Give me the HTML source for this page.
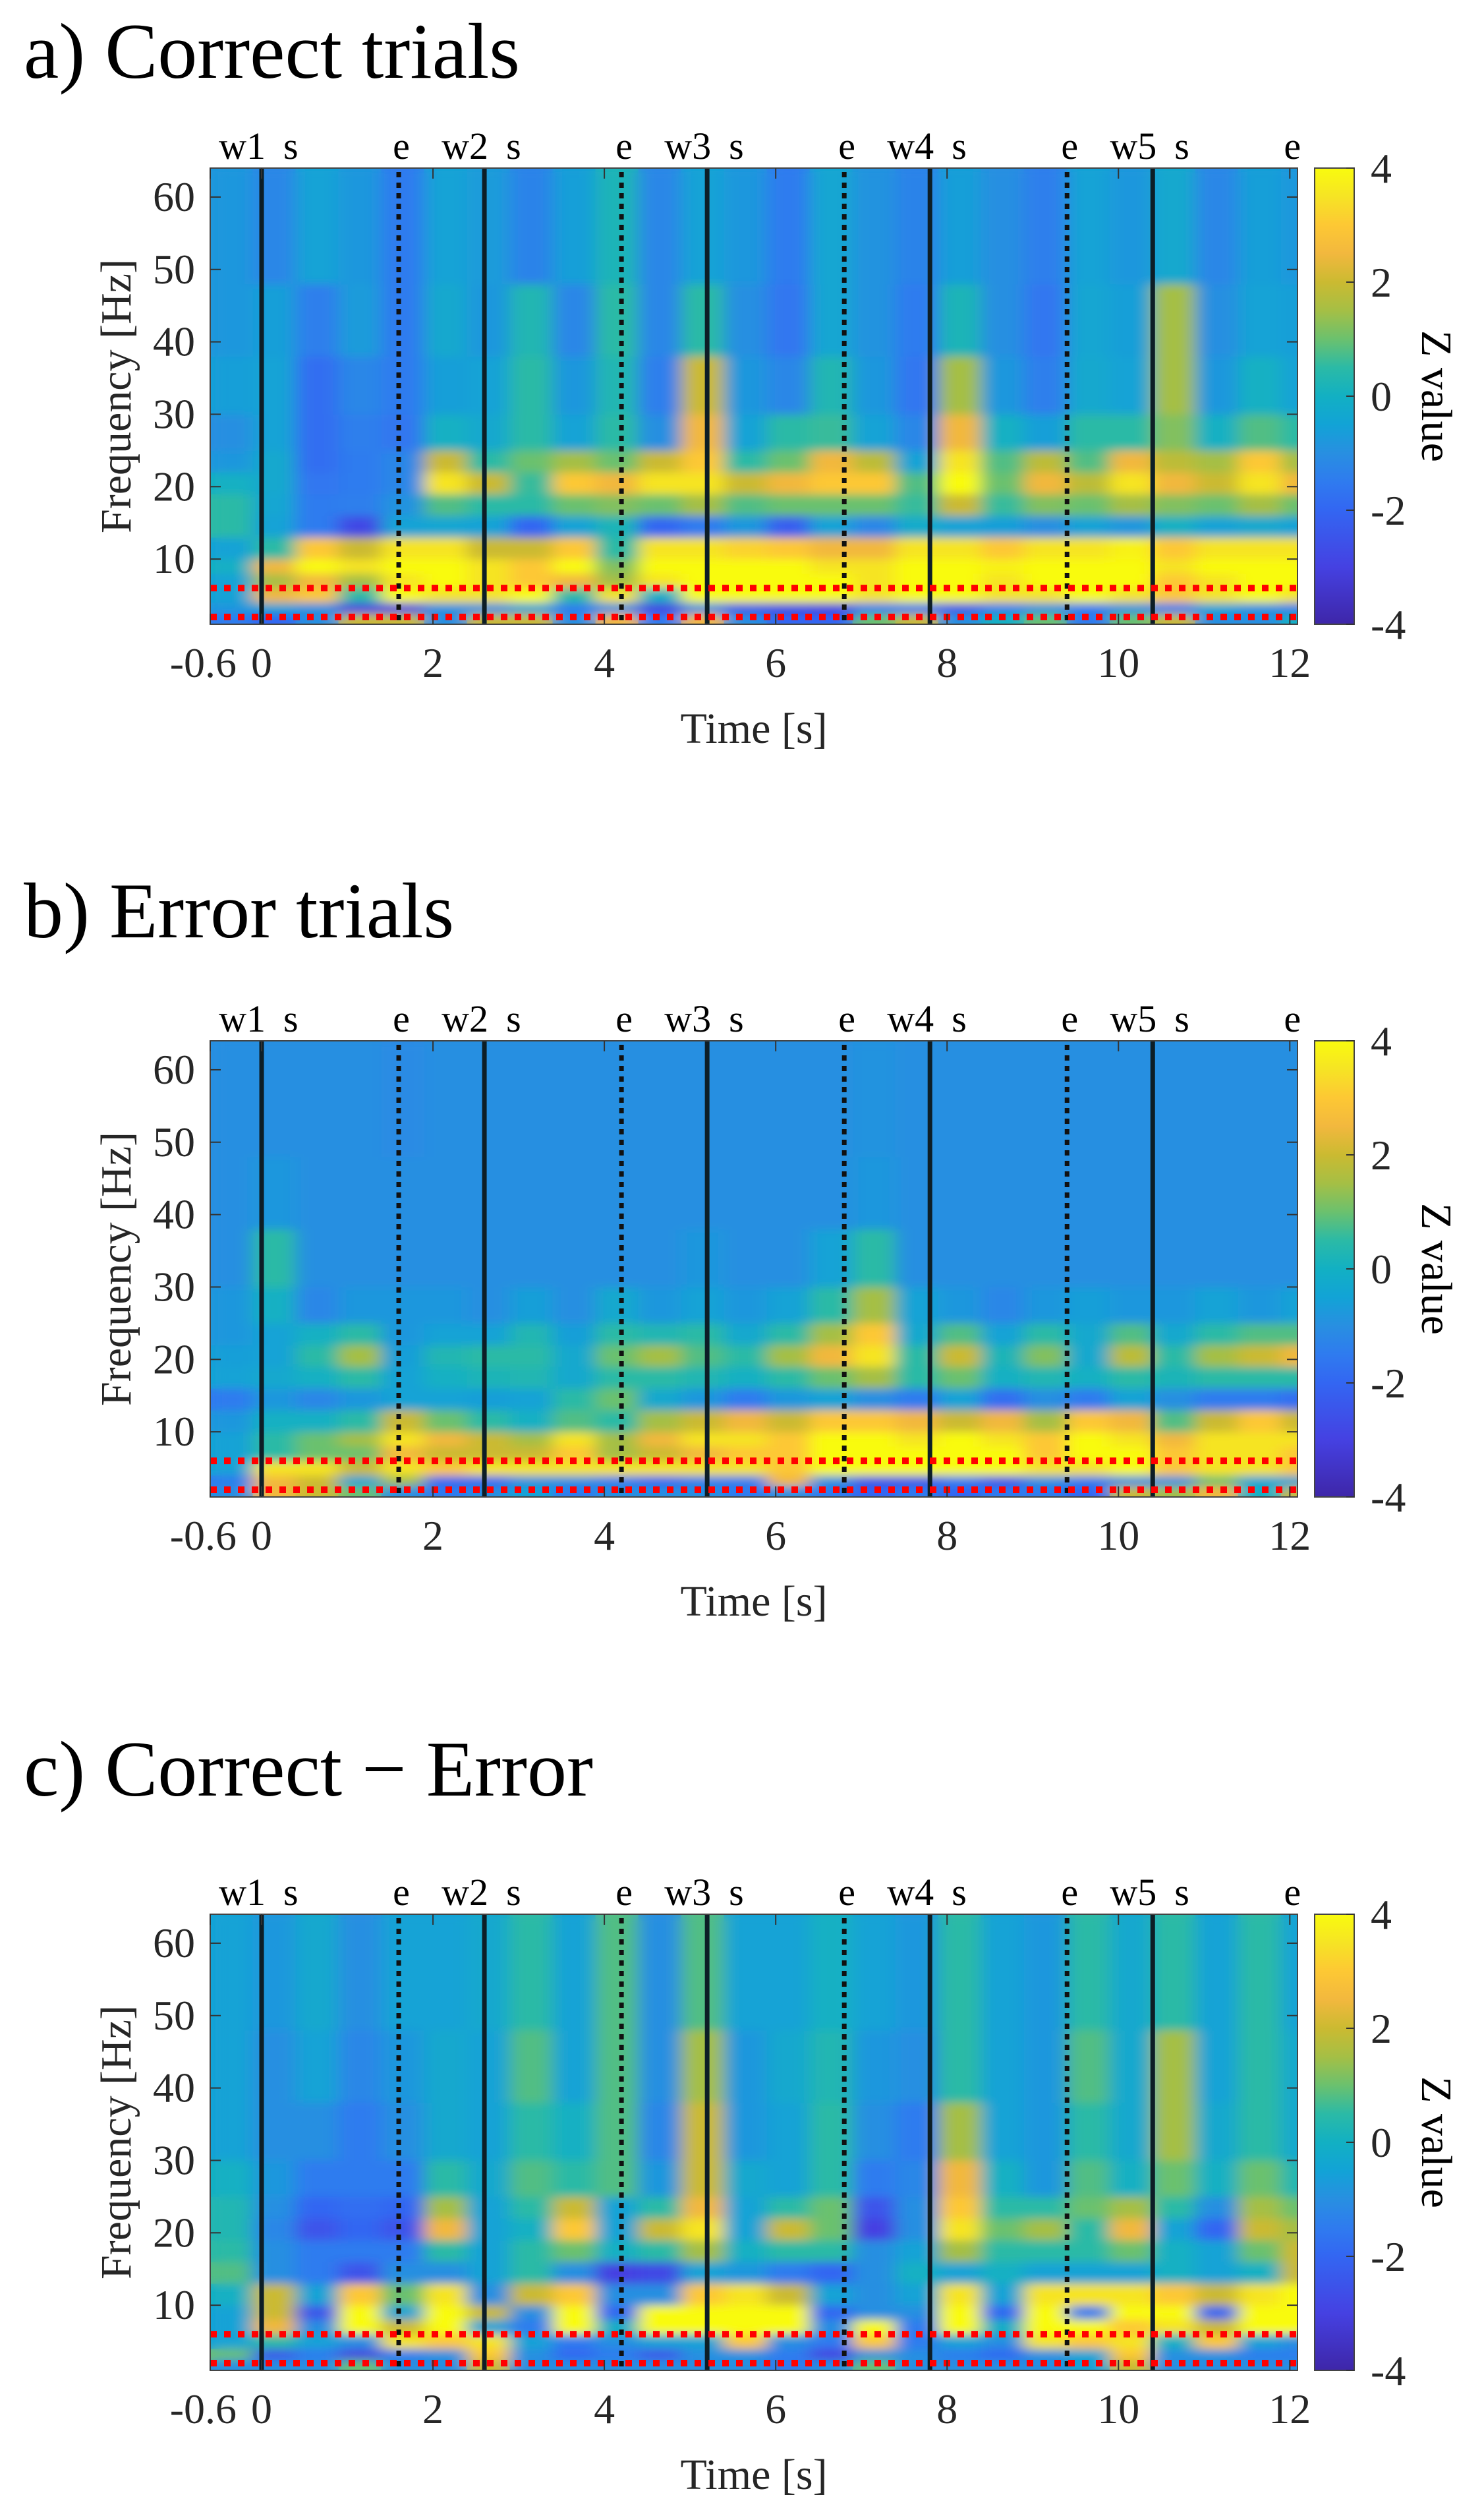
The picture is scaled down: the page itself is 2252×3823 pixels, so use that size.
<!DOCTYPE html>
<html><head><meta charset="utf-8"><style>
html,body{margin:0;padding:0;background:#fff;}
svg{display:block;font-family:"Liberation Serif",serif;}
</style></head><body>
<svg id="fig" width="2252" height="3823" viewBox="0 0 2252 3823" xmlns="http://www.w3.org/2000/svg">
<defs>
<filter id="soft" x="-5%" y="-5%" width="110%" height="110%"><feGaussianBlur stdDeviation="13 7"/></filter>
<linearGradient id="cbgrad" x1="0" y1="1" x2="0" y2="0"></linearGradient>
</defs>
</svg>
<script>
// ---- data ----
const timeBins = [-0.6,-0.1,0.4,0.9,1.4,1.9,2.4,2.9,3.4,3.9,4.4,4.9,5.4,5.9,6.4,6.9,7.4,7.9,8.4,8.9,9.4,9.9,10.4,10.9,11.4,11.9];
const freqEdges = [1,2.5,4,6,8,10,13,16,19,22,25,30,38,48,64];
const solidEvents = [0,2.6,5.2,7.8,10.4];
const dottedEvents = [1.6,4.2,6.8,9.4];
const bandLines = [2,6];
const yTicks = [10,20,30,40,50,60];
const xTicks = [-0.6,0,2,4,6,8,10,12];
const xTickLabels = ["-0.6","0","2","4","6","8","10","12"];
const cbTicks = [4,2,0,-2,-4];
const eventLabels = [["w1",0],["e",1.6],["w2",2.6],["e",4.2],["w3",5.2],["e",6.8],["w4",7.8],["e",9.4],["w5",10.4],["e",12]];
const titles = ["a) Correct trials","b) Error trials","c) Correct \u2212 Error"];

// rows listed bottom (1-2.5 Hz) to top (48-64 Hz)
const correctZ = [
[-1.5,-2,-1,2,2,-1,2,2,-1,2.5,-1.5,2.5,-1,-2,-2,1,2,-1,0,1,-1.5,1,2,-1,-1,0],
[-0.8,-0.5,-1,-3,-3,-1,-1,-0.5,-1.5,-1,-3,-1,-2.5,-2.8,-3,-1.5,-1.5,-2.5,-1.5,-1,-1.5,-1,-1.5,-0.5,-1,-1.5],
[-0.5,2.5,3,0.5,4,3.5,3.5,4,0.5,3.5,0,4,4,4,4,3.5,4,4,3.5,3.5,4,3.5,3,3.5,4,3.5],
[-0.5,1.5,2.5,1.5,3.5,4,3.5,3,2.5,1.5,3.5,4,4,4,4,3.5,4,4,3.5,4,4,4,3,3.5,4,4],
[0,2.5,4,3.5,4,4,3.5,3,4,1.2,4,4,4,4,3.5,3.5,4,4,3.8,4,4,4,3.5,4,4,4],
[-0.5,0.5,3,2,3.5,3.5,2,2,3,0.5,3.5,3.5,3.2,3,2.5,2.5,3.5,3.5,3,3.5,3.5,3.8,3,3.5,3.5,3.5],
[0.5,-0.5,-1.5,-2.8,-0.5,-0.4,-0.5,-2,-0.5,0.2,-2,-1.5,-0.8,-2.2,-0.5,-1.2,-0.2,-0.5,-0.6,-1,-0.5,-0.8,0,-0.5,-0.3,-0.5],
[0.5,-0.4,-1.5,-1.4,-0.9,0.8,0.5,0.5,1,1.2,1,1.5,0.8,1,1,1,0.6,2,0.6,1.2,1,1.5,1.2,1,1.5,1],
[0,-0.3,-1.6,-1.5,-1.2,3.5,2,0.6,3,2.5,3.5,3.5,2,2.5,3,3,0.8,4,1,2.5,1.8,3.5,2.5,2,3.5,2.5],
[-0.8,-0.3,-1.8,-1.5,-1.2,2,0.5,1,1.5,1,2,3,0.5,1,2.5,1.8,-0.5,3.5,0.8,1.8,0.8,2.5,1.8,1.5,3,1.5],
[-1,-0.5,-1.8,-1.4,-1.6,0,-0.3,0.5,-0.5,0.5,-1,2.5,-0.5,0.5,0.6,-0.5,-1.2,2.5,0,-0.6,0.5,0.5,1.2,0,0.8,0.5],
[-0.6,-0.5,-1.8,-1.2,-1.5,-0.6,-0.5,0.5,-0.8,0.3,-1.4,2,-0.8,-1.2,0.3,-0.8,-1.6,1.5,-0.8,-1.4,-0.3,-0.5,1.5,-0.8,0,-0.5],
[-0.8,-0.6,-1.4,-0.7,-1.5,-0.3,-0.8,0.3,-1.2,0.5,-1.2,0.5,-1,-1.6,-0.4,-0.9,-1.5,0.2,-1,-1.6,-0.4,-0.6,1.5,-1,-0.5,-0.6],
[-0.8,-1.2,-0.5,-0.8,-1.5,-0.5,-0.7,-1.3,-0.6,0.2,-1.2,-0.5,-0.8,-1.5,-0.4,-0.9,-1.3,-0.6,-1,-1.4,-0.5,-0.8,-0.3,-1.2,-0.6,-0.8]
];
const errorZ = [
[-1,2.5,2,1,-1,-1.5,-1,-0.5,-1.5,-1,-1,-1,-1.5,-1,-1.5,-2,-1.5,-2,-1.5,-1.5,-2,2,1.5,2.5,0,2],
[-1.5,2.5,2,-0.5,1.5,-2,-2,-1,-1,-1.5,-2,-1.5,-1.5,2.5,-1,-2.5,-2.5,-1.5,-2.5,-1,-1.5,-1,-1,1,-0.5,-0.5],
[-0.5,3.5,3.5,2,3.5,3,3.5,3.5,3.5,3.5,3.5,3.5,3.5,3,4,4,4,4,4,3.5,3.5,4,3,3.5,3.5,3],
[-0.5,0.5,1,1,2.5,2,2,2,3,1.5,2,2.5,3,3,4,4,4,4,4,3,4,4,3,3.5,3.5,3],
[-0.5,0.5,1,1.5,3.5,2.5,2,1.5,3.5,1.5,2.5,3.5,3.5,3,4,4,3.5,4,3.5,3,4,3.5,2.5,3.5,3.5,3.5],
[-0.8,0,0,0.5,2,1,0.5,0,0.8,0.5,1.5,2,2.5,2,3,3,2.5,2,2.5,1.5,3,2.5,0.8,2,3,2],
[-1.5,-0.8,-1.2,-0.8,-0.5,-0.5,-0.6,-0.5,0.5,1,-0.3,-0.8,-1.5,-0.8,-0.5,-1,-1.5,-0.5,-1.8,-1,-1.5,-0.5,-1,-1.5,-1.5,-1.8],
[-0.5,-0.3,0,0.5,-0.5,0,0.2,0.3,-0.3,0.5,0.5,0.3,0,0.5,1,1.5,0.5,1,0,0.3,0,0.5,0.2,0.5,0.5,0.5],
[-0.6,-0.5,0.5,1.5,-0.6,0.3,0.5,0.5,-0.3,1,1.5,0.8,0.5,1.5,2.5,3.5,0.5,2,0.2,1.2,-0.3,1.8,0.5,1.5,2,2.5],
[-0.8,-0.5,0,0.5,-0.8,-0.5,-0.5,0.3,-0.6,0.5,0.3,0.5,-0.3,0.5,1.5,3,-0.3,0.8,-0.5,0.5,-0.3,0.8,-0.3,0.5,0.8,0.8],
[-0.8,0,-1.2,-0.8,-0.8,-0.8,-1,-0.6,-1,-0.3,-0.8,-0.5,-0.8,-0.5,0.5,1.5,-0.5,-0.8,-1.2,-0.8,-0.6,-0.8,-0.8,-0.5,-0.8,-0.5],
[-1,0.5,-1,-1,-1,-1,-1,-1,-1,-1,-1,-0.8,-1,-1,-0.5,0.5,-1,-1,-1,-1,-1,-1,-1,-1,-1,-1],
[-1,-0.8,-1,-1,-1,-1,-1,-1,-1,-1,-1,-1,-1,-1,-1,-0.8,-1,-1,-1,-1,-1,-1,-1,-1,-1,-1],
[-1,-1,-1,-1,-1.1,-1,-1,-1,-1,-1,-1,-1,-1,-1,-1,-0.9,-1,-1,-1,-1,-1,-1,-1,-1,-1,-1]
];
const diffZ = [
[-1,-1,-1,1,-1,-1,2,-1,-1,-1,-1,-1,-1,-1.5,-1,1,-1,-1,-1,-1,-0.5,2,-1,-1,-1,-1],
[1,-2.5,-1.5,-3,-1.5,-1,3,-1,-2,-1.5,-2.5,-1,-1,-1.5,-3,-1,-1,-1.5,-2,-1,-0.5,3,-1,-1,-1.5,-1.5],
[-0.5,0.5,-0.5,-1,3.5,3,3.5,-0.5,-1.5,-1,-0.5,-0.5,3,-1,-1.5,3,-1.5,-0.5,-1,3.5,3,3.5,0,3,-0.5,-1],
[-0.5,2.5,-1,4,2,4,-0.5,-1.5,4,0,4,4,4,4,-1,4,-1.5,4,0,4,4,3,3.5,2,4,4],
[-0.5,2,-2.5,4,-0.5,4,2,-1,4,-2,4,4,4,4,-2,-1,-1,4,-2,4,-1.5,4,4,-2,4,4],
[0,2,-0.5,3,1,3.5,-1,2,3,-1,-1,3,3.5,2,-0.5,-1,-0.5,3.5,-0.5,3.5,3.5,3.5,3,2,3.5,4],
[0.8,-1,-1.5,-2.5,-1,-1,-0.5,0.5,-1,-3,-2.8,-0.5,-0.8,-1.5,-2,-1,0,-0.5,0,-0.5,-0.5,-0.5,0,-0.5,0,2],
[0.5,-1,-1.5,-1.5,-1.5,0.5,-0.5,0.5,1,0,0.5,1.5,0,0.5,0.5,-1,-0.5,1.5,0.5,0.5,0.5,1,0,-0.5,1,2],
[0.3,-1.2,-2.5,-2,-2.5,2.5,-0.5,0,3,-0.5,2,3.5,-0.5,2,1,-3,-1,3.5,1,1.5,0.5,2.5,-0.5,-2,2,1.5],
[0.3,-1,-2,-1.8,-2,1.5,-0.5,0.5,2,-0.5,0.5,2.5,-0.5,0.5,1,-2.5,-1,3,0.5,0.5,1,1.5,0.5,-1,1.5,1],
[0,-0.8,-1.5,-1.5,-1.5,0.5,-0.3,0.8,0.5,0.8,-0.8,2,-0.3,-0.5,0.5,-1.5,-1.2,2.5,0,-0.8,0.8,0,1,0,1,0.3],
[-0.5,-1,-1,-1.5,-1,-0.3,-0.5,0.5,0,0.8,-1.2,2,-0.8,-0.5,0.5,-1,-1.5,1.5,-0.5,-0.8,0.5,-0.3,1.5,-0.3,0.5,-0.3],
[-0.5,-1,-0.5,-1.2,-0.8,-0.3,-0.5,0.8,-0.5,0.8,-1,1.5,-0.8,-0.3,0.3,-0.8,-1,0.5,-0.5,-0.8,0.8,-0.3,1.5,-0.5,0.5,-0.3],
[-0.5,-0.8,-0.3,-1,-0.5,-0.5,-0.3,0.5,-0.5,0.8,-1,0.8,-0.5,-0.5,0,-0.5,-0.8,0.5,-0.5,-0.8,0.5,-0.3,0.5,-0.5,0.5,-0.5]
];
const panelData = [correctZ, errorZ, diffZ];

// ---- layout ----
const NS = "http://www.w3.org/2000/svg";
const svg = document.getElementById('fig');
const PL = 319, PR = 1969, PH = 692;
const panelTops = [255, 1579, 2904];
const titleY = [118, 1422, 2724];
const T0 = -0.6, T1 = 12.09, F0 = 1, F1 = 64;
function xScale(t){ return PL + (t - T0) / (T1 - T0) * (PR - PL); }
function yScale(f, top){ return top + PH - (f - F0) / (F1 - F0) * PH; }
const cmapZ = [-4,-3,-2,-1.5,-1,-0.5,0,0.5,1,1.5,2,2.5,3,3.5,4];
const cmapC = ["#3e26a8","#4541e2","#3366f2","#2f7bef","#288fe1","#12a3d6","#12b0c3","#2bbaa6","#6bc16e","#a5bf45","#cbba31","#f2b83e","#fdc834","#f6e424","#f9fb0e"];
function hex2rgb(h){return [1,3,5].map(i=>parseInt(h.substr(i,2),16));}
function color(z){
  z = Math.max(-4, Math.min(4, z));
  for (let i=0;i<cmapZ.length-1;i++){
    if (z<=cmapZ[i+1]){
      const a=hex2rgb(cmapC[i]), b=hex2rgb(cmapC[i+1]);
      const u=(z-cmapZ[i])/(cmapZ[i+1]-cmapZ[i]);
      return 'rgb('+a.map((v,k)=>Math.round(v+(b[k]-v)*u)).join(',')+')';
    }
  }
  return cmapC[cmapC.length-1];
}
function mk(tag, attrs, parent){
  const e = document.createElementNS(NS, tag);
  for (const k in attrs) e.setAttribute(k, attrs[k]);
  (parent||svg).appendChild(e);
  return e;
}
const grad = document.getElementById('cbgrad');
cmapZ.forEach((z,i)=>{ mk('stop',{offset:((z+4)/8).toFixed(4),'stop-color':cmapC[i]},grad); });

panelData.forEach((grid, p)=>{
  const top = panelTops[p];
  const g = mk('g', {});
  
  
  const title = mk('text', {x:36, y:titleY[p], 'font-size':120, fill:'#000'}, g);
  title.textContent = titles[p];
  
  

  const clipId = 'clip'+p;
  const cp = mk('clipPath', {id:clipId}, g);
  mk('rect', {x:PL, y:top, width:PR-PL, height:PH}, cp);
  const hm = mk('g', {'clip-path':'url(#'+clipId+')'}, g);
  
  
  const base = mk('g', {}, hm);
  const soft = mk('g', {filter:'url(#soft)'}, hm);
  [base, soft].forEach(layer=>{
    grid.forEach((row, r)=>{
      const y1 = yScale(freqEdges[r+1], top), y0 = yScale(freqEdges[r], top);
      row.forEach((z, c)=>{
        const tA = timeBins[c], tB = (c+1<timeBins.length) ? timeBins[c+1] : T1 + 0.3;
        const xa = xScale(tA), xb = xScale(tB);
        const cell = mk('rect', {x:xa-0.5, y:y1-0.5, width:xb-xa+1, height:y0-y1+1, fill:color(z)}, layer);
        
        
      });
    });
  });
  solidEvents.forEach(t=>{
    const l = mk('line', {x1:xScale(t), x2:xScale(t), y1:top, y2:top+PH, stroke:'#0d1e26', 'stroke-width':7}, g);
    
    
  });
  dottedEvents.forEach(t=>{
    const l = mk('line', {x1:xScale(t), x2:xScale(t), y1:top+6, y2:top+PH, stroke:'#111', 'stroke-width':7, 'stroke-dasharray':'8 8'}, g);
    
    
  });
  bandLines.forEach(f=>{
    const l = mk('line', {x1:PL, x2:PR, y1:yScale(f, top), y2:yScale(f, top), stroke:'#ff0000', 'stroke-width':10, 'stroke-dasharray':'10 11'}, g);
    
    
  });
  const fr = mk('rect', {x:PL, y:top, width:PR-PL, height:PH, fill:'none', stroke:'#444', 'stroke-width':2}, g);
  
  
  yTicks.forEach(f=>{
    const y = yScale(f, top);
    mk('line', {x1:PL, x2:PL+16, y1:y, y2:y, stroke:'#333', 'stroke-width':2}, g);
    mk('line', {x1:PR-16, x2:PR, y1:y, y2:y, stroke:'#333', 'stroke-width':2}, g);
    const tl = mk('text', {x:296, y:y+21, 'font-size':64, fill:'#262626', 'text-anchor':'end'}, g);
    tl.textContent = String(f);
    
    
  });
  xTicks.forEach((t,i)=>{
    const x = xScale(t);
    mk('line', {x1:x, x2:x, y1:top+PH, y2:top+PH-16, stroke:'#333', 'stroke-width':2}, g);
    mk('line', {x1:x, x2:x, y1:top, y2:top+16, stroke:'#333', 'stroke-width':2}, g);
    const anchor = i===0 ? 'end' : 'middle';
    const tx = i===0 ? x+40 : x;
    const tl = mk('text', {x:tx, y:top+PH+80, 'font-size':64, fill:'#262626', 'text-anchor':anchor}, g);
    tl.textContent = xTickLabels[i];
    
    
  });
  eventLabels.forEach(([lab, t])=>{
    const x = xScale(t);
    if (lab === 'e'){
      const el = mk('text', {x:x+4, y:top-14, 'font-size':58, fill:'#000', 'text-anchor':'middle'}, g);
      el.textContent = 'e';
      
      
    } else {
      const wl = mk('text', {x:x+6, y:top-14, 'font-size':58, fill:'#000', 'text-anchor':'end'}, g);
      wl.textContent = lab;
      
      
      const sl = mk('text', {x:x+33, y:top-14, 'font-size':58, fill:'#000'}, g);
      sl.textContent = 's';
      
      
    }
  });
  const yl = mk('text', {x:0, y:0, 'font-size':66, fill:'#262626', 'text-anchor':'middle', transform:'translate(198,'+(top+PH/2)+') rotate(-90)'}, g);
  yl.textContent = 'Frequency [Hz]';
  
  
  const xl = mk('text', {x:(PL+PR)/2, y:top+PH+180, 'font-size':66, fill:'#262626', 'text-anchor':'middle'}, g);
  xl.textContent = 'Time [s]';
  
  
  const cb = mk('rect', {x:1995, y:top, width:60, height:PH, fill:'url(#cbgrad)', stroke:'#444', 'stroke-width':2}, g);
  
  
  cbTicks.forEach(z=>{
    const y = top + PH - (z+4)/8*PH;
    mk('line', {x1:2043, x2:2055, y1:y, y2:y, stroke:'#333', 'stroke-width':2}, g);
    const cl = mk('text', {x:2080, y:y+22, 'font-size':64, fill:'#262626'}, g);
    cl.textContent = String(z);
    
    
  });
  const zl = mk('text', {x:0, y:0, 'font-size':66, fill:'#000', 'text-anchor':'middle', transform:'translate(2158,'+(top+PH/2)+') rotate(90)'}, g);
  zl.textContent = 'Z value';
  
  
});
</script>
</body></html>
